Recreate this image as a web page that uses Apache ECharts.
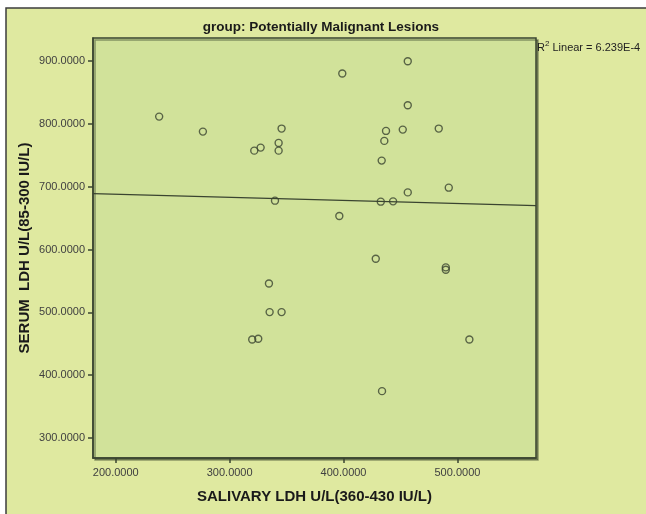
<!DOCTYPE html>
<html>
<head>
<meta charset="utf-8">
<script src="https://cdn.jsdelivr.net/npm/echarts@6/dist/echarts.min.js"></script>
<style>
  html, body { margin: 0; padding: 0; background: #fff; }
  #chart { width: 646px; height: 514px; }
</style>
</head>
<body>
<div id="chart"></div>
<script>
// salivary LDH (x) and serum LDH (y)
var salivaryLdh = [238.1, 276.5, 321.6, 327.2, 345.6, 343.0, 343.0, 398.9, 339.8, 396.3,
  334.5, 456.4, 456.4, 437.3, 452.0, 483.6, 435.8, 433.5, 456.4, 492.4,
  432.7, 443.5, 428.3, 489.8, 489.8, 335.1, 345.6, 319.8, 325.1, 510.5, 433.8]
var serumLdh = [811.8, 787.9, 757.6, 762.4, 792.7, 769.9, 757.6, 880.4, 677.9, 653.5,
  546.0, 900.0, 829.8, 789.0, 791.1, 792.7, 773.1, 741.7, 691.1, 698.6,
  676.3, 676.8, 585.4, 571.6, 567.9, 500.4, 500.4, 456.8, 457.9, 456.8, 374.5]
// fit line end points (x, y)
var fitX = [180, 569]
var fitY = [689, 670]
var xTicks = [200, 300, 400, 500]
var yTicks = [300, 400, 500, 600, 700, 800, 900]

var dark = '#3a4430'
var font = '"Liberation Sans", Arial, sans-serif'
var chart = echarts.init(document.getElementById('chart'))

var points = salivaryLdh.map(function(x, i) { return [x, serumLdh[i]] })
var fit = fitX.map(function(x, i) { return [x, fitY[i]] })

chart.setOption({
  animation: false,
  backgroundColor: '#ffffff',
  graphic: [
    {
      type: 'rect',
      z: -10,
      silent: true,
      shape: { x: 6, y: 8, width: 700, height: 600 },
      style: { fill: '#dfe9a0', stroke: '#3c3c3c', lineWidth: 1.5 }
    },
    {
      type: 'text',
      x: 321,
      y: 20,
      silent: true,
      style: {
        text: 'group: Potentially Malignant Lesions',
        font: 'bold 13.5px ' + font,
        fill: '#1a1a1a',
        textAlign: 'center'
      }
    },
    {
      type: 'text',
      x: 537,
      y: 40,
      silent: true,
      style: {
        text: '{a|R}{s|2}{a| Linear = 6.239E-4}',
        rich: {
          a: { fontSize: 11, fontFamily: font, fill: '#222', verticalAlign: 'bottom' },
          s: { fontSize: 8, fontFamily: font, fill: '#222', verticalAlign: 'top', padding: [0, 0, 5, 0] }
        }
      }
    }
  ],
  grid: {
    left: 93,
    top: 38,
    right: 110,
    bottom: 56,
    show: true,
    backgroundColor: '#d1e29a',
    borderColor: dark,
    borderWidth: 1.5,
    shadowColor: 'rgba(40,50,30,0.45)',
    shadowBlur: 0,
    shadowOffsetX: 2,
    shadowOffsetY: 2
  },
  xAxis: {
    type: 'value',
    min: 180,
    max: 569,
    name: 'SALIVARY LDH U/L(360-430 IU/L)',
    nameLocation: 'middle',
    nameGap: 31,
    nameMoveOverlap: false,
    nameTextStyle: { fontSize: 15, fontWeight: 'bold', color: '#1a1a1a', fontFamily: font },
    splitLine: { show: false },
    axisLine: { show: true, lineStyle: { color: dark, width: 1.5 } },
    axisTick: { show: true, length: 5, lineStyle: { color: dark, width: 1.5 }, customValues: xTicks },
    axisLabel: {
      customValues: xTicks,
      margin: 9,
      fontSize: 11,
      color: '#404040',
      fontFamily: font,
      formatter: function(v) { return v.toFixed(4) }
    }
  },
  yAxis: {
    type: 'value',
    min: 268,
    max: 937,
    name: 'SERUM  LDH U/L(85-300 IU/L)',
    nameLocation: 'middle',
    nameGap: 61,
    nameMoveOverlap: false,
    nameTextStyle: { fontSize: 15, fontWeight: 'bold', color: '#1a1a1a', fontFamily: font },
    splitLine: { show: false },
    axisLine: { show: true, lineStyle: { color: dark, width: 1.5 } },
    axisTick: { show: true, length: 5, lineStyle: { color: dark, width: 1.5 }, customValues: yTicks },
    axisLabel: {
      customValues: yTicks,
      margin: 8,
      fontSize: 11,
      color: '#404040',
      fontFamily: font,
      formatter: function(v) { return v.toFixed(4) }
    }
  },
  series: [
    {
      type: 'line',
      data: fit,
      symbol: 'none',
      silent: true,
      lineStyle: { color: dark, width: 1.2 },
      z: 3
    },
    {
      type: 'scatter',
      data: points,
      symbol: 'circle',
      symbolSize: 7,
      itemStyle: { color: 'rgba(0,0,0,0)', borderColor: dark, borderWidth: 1.4 },
      z: 4
    }
  ]
})
</script>
</body>
</html>
